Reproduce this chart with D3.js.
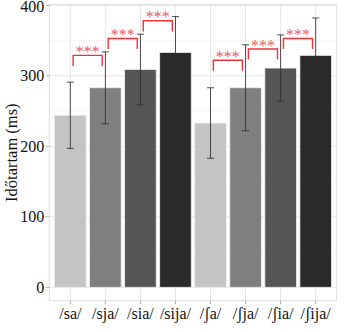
<!DOCTYPE html>
<html><head><meta charset="utf-8">
<script src="https://cdn.jsdelivr.net/npm/d3@7"></script>
<style>body{margin:0;background:#fff}svg{display:block}
svg text{font-family:"Liberation Serif","Times New Roman","DejaVu Serif",serif;}</style>
</head><body>
<script>
const categories = ["/sa/","/sja/","/sia/","/sija/","/ʃa/","/ʃja/","/ʃia/","/ʃija/"];
const means = [244, 283, 309, 333, 233, 283, 311, 329];
const sds = [47, 51, 50, 51, 50, 61, 47, 53];
const barColors = ["#c4c4c4","#7f7f7f","#555555","#2a2a2a","#c4c4c4","#7f7f7f","#555555","#2a2a2a"];
const brackets = [
  {from:0,to:1,y:329,label:"***"},
  {from:1,to:2,y:353,label:"***"},
  {from:2,to:3,y:378,label:"***"},
  {from:4,to:5,y:322,label:"***"},
  {from:5,to:6,y:338,label:"***"},
  {from:6,to:7,y:353,label:"***"}
];
const yTicks = [0,100,200,300,400];
const yMinor = [50,150,250,350];
const yTitle = "Időtartam (ms)";

(function(){
const W=350,H=332;
const pL=49.3,pR=336.7,pT=4.6,pB=300.7;
const svg=d3.select("body").append("svg").attr("width",W).attr("height",H);

const step=(pR-pL)/(categories.length-1+1.2);
const x=d3.scalePoint().domain(categories).range([pL+0.6*step,pR-0.6*step]);
const cx=i=>x(categories[i]);
const y=d3.scaleLinear().domain([-19,401]).range([pB,pT]);

const g=svg.append("g");
g.selectAll(".minor").data(yMinor).join("line").attr("x1",pL).attr("x2",pR)
 .attr("y1",d=>y(d)).attr("y2",d=>y(d)).attr("stroke","#efefef").attr("stroke-width",0.6);
g.selectAll(".major").data(yTicks).join("line").attr("x1",pL).attr("x2",pR)
 .attr("y1",d=>y(d)).attr("y2",d=>y(d)).attr("stroke","#e6e6e6").attr("stroke-width",1);
g.selectAll(".vx").data(categories).join("line").attr("x1",d=>x(d)).attr("x2",d=>x(d))
 .attr("y1",pT).attr("y2",pB).attr("stroke","#e6e6e6").attr("stroke-width",1);

const bw=step*0.9;
svg.selectAll(".bar").data(means).join("rect")
 .attr("x",(d,i)=>cx(i)-bw/2).attr("width",bw)
 .attr("y",d=>y(d)).attr("height",d=>y(0)-y(d))
 .attr("fill",(d,i)=>barColors[i]).attr("stroke","#ececec").attr("stroke-width",0.8);

const eb=svg.append("g").attr("stroke","#2e2e2e").attr("stroke-width",1).attr("stroke-opacity",0.85);
means.forEach((m,i)=>{
  const hi=y(m+sds[i]),lo=y(m-sds[i]),c=cx(i),cw=3.5;
  eb.append("line").attr("x1",c).attr("x2",c).attr("y1",hi).attr("y2",lo);
  eb.append("line").attr("x1",c-cw).attr("x2",c+cw).attr("y1",hi).attr("y2",hi);
  eb.append("line").attr("x1",c-cw).attr("x2",c+cw).attr("y1",lo).attr("y2",lo);
});

svg.append("rect").attr("x",pL).attr("y",pT).attr("width",pR-pL).attr("height",pB-pT)
 .attr("fill","none").attr("stroke","#dedede").attr("stroke-width",1);

const red="#f0323a";
const bg=svg.append("g");
brackets.forEach(b=>{
  const x1=cx(b.from)+0.08*step,x2=cx(b.to)-0.09*step,yy=y(b.y),tip=y(b.y-15);
  bg.append("path").attr("d",`M${x1},${tip}V${yy}H${x2}V${tip}`).attr("fill","none")
    .attr("stroke",red).attr("stroke-width",1.4);
  bg.append("text").attr("x",(x1+x2)/2).attr("y",yy+1.5).attr("text-anchor","middle")
    .attr("font-size",16).attr("fill",red).attr("fill-opacity",0.85).text(b.label);
});

const ya=svg.append("g");
yTicks.forEach(t=>{
  ya.append("line").attr("x1",pL-3.5).attr("x2",pL).attr("y1",y(t)).attr("y2",y(t)).attr("stroke","#aaa");
  ya.append("text").attr("x",pL-5).attr("y",Math.max(y(t),6)).attr("dy","0.35em").attr("text-anchor","end")
    .attr("font-size",16).attr("fill","#111").text(t);
});
const xa=svg.append("g");
categories.forEach((c,i)=>{
  xa.append("line").attr("x1",cx(i)).attr("x2",cx(i)).attr("y1",pB).attr("y2",pB+3.5).attr("stroke","#aaa");
  xa.append("text").attr("x",cx(i)).attr("y",318.5).attr("text-anchor","middle")
    .attr("font-size",16).attr("fill","#111").text(c);
});
svg.append("text").attr("transform",`translate(17,${(pT+pB)/2}) rotate(-90)`)
 .attr("text-anchor","middle").attr("font-size",16.5).attr("fill","#111").text(yTitle);
})();
</script>
</body></html>
